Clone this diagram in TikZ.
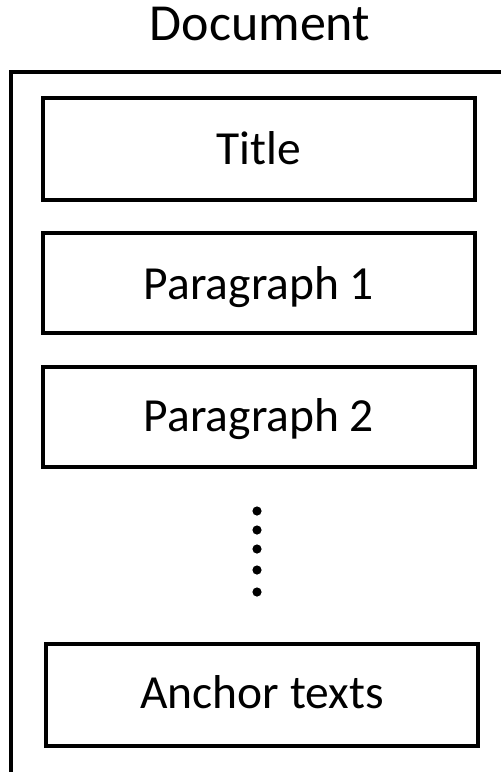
\documentclass[tikz,border=0pt]{standalone}
\usepackage{fontspec}
\setmainfont{Carlito}
\begin{document}
\begin{tikzpicture}[x=1pt,y=-1pt,
  part/.style={draw, line width=4pt, minimum width=432pt, inner sep=0pt,
    text depth=0pt, font=\fontsize{47.5}{54}\selectfont},
  label/.style={inner sep=0pt, font=\fontsize{52}{60}\selectfont},
  frame/.style={line width=4pt, line join=miter},
  dot/.style={fill=black, draw=none}]
  \useasboundingbox (0,0) rectangle (501,772);

  % document frame (open to the right and bottom)
  \coordinate (fb) at (11,772);
  \coordinate (fc) at (11,72);
  \coordinate (fr) at (501,72);
  \draw[frame] (fb) -- (fc) -- (fr);
  \node[label, anchor=base] (doc) at (260,40) {Document};

  % parts of the document
  \node[part, minimum height=102pt, text height=30pt] (title) at (259,149) {Title};
  \node[part, minimum height=100.5pt, text height=33pt] (p1) at (259,282.75) {Paragraph 1};
  \node[part, minimum height=100pt, text height=29.4pt] (p2) at (259,417) {Paragraph 2};
  \node[part, minimum height=102pt, text height=27pt] (anchor) at (262,694.5) {Anchor texts};

  % vertical ellipsis
  \foreach \y in {511,530,549,570,592}
    \fill[dot] (257,\y) circle (4.6pt);
\end{tikzpicture}
\end{document}
